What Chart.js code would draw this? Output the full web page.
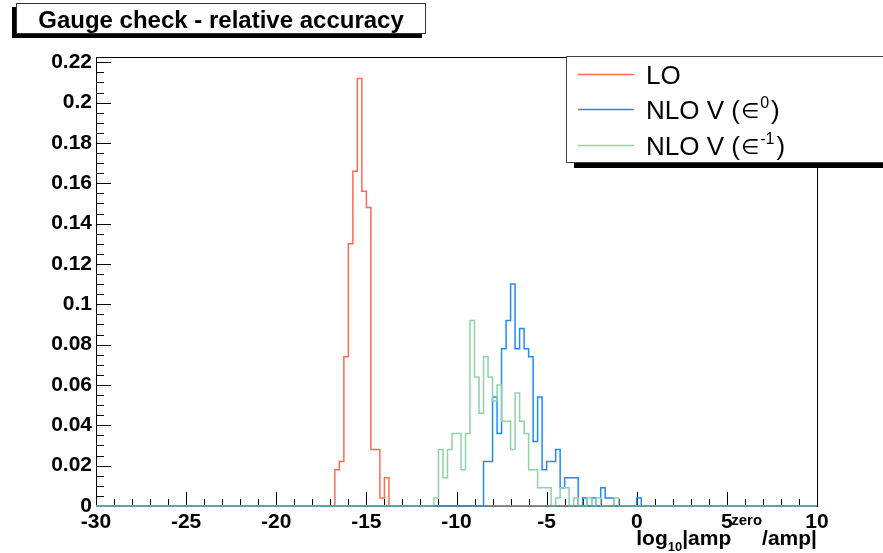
<!DOCTYPE html>
<html>
<head>
<meta charset="utf-8">
<script src="https://cdn.jsdelivr.net/npm/chart.js@4"></script>
<style>
  html, body { margin: 0; padding: 0; background: #fff; }
</style>
</head>
<body>
<canvas id="chart" width="883" height="553"></canvas>
<script>
// histogram range (log10|amp_zero/amp|), 0.25 wide bins
const xMin = -30;
const xMax = 10;
const binWidth = 0.25;
const yMax = 0.2226;

const xTicks = [-30, -25, -20, -15, -10, -5, 0, 5, 10];
const yTicks = [0, 0.02, 0.04, 0.06, 0.08, 0.1, 0.12, 0.14, 0.16, 0.18, 0.2, 0.22];

const seriesNames = ["LO", "NLO V (", "NLO V ("];
const seriesPowers = ["", "0", "-1"];

// LO, bins starting at -16.75
const loStart = -16.75;
const loValues = [0.018, 0.022, 0.074, 0.13, 0.166, 0.212, 0.156, 0.148, 0.028, 0.028, 0.004, 0.014];

// NLO V (eps^0), bins starting at -8.5
const nlo0Start = -8.5;
const nlo0Values = [0.022, 0.022, 0.054, 0.036, 0.078, 0.092, 0.110, 0.078, 0.088, 0.078,
  0.074, 0.032, 0.054, 0.018, 0.022, 0.022, 0.028, 0.009, 0.014, 0.014,
  0.014, 0, 0.004, 0, 0.004, 0, 0.009, 0.004, 0.004, 0,
  0, 0, 0, 0, 0.004];

// NLO V (eps^-1), bins starting at -11.25
const nlo1Start = -11.25;
const nlo1Values = [0.004, 0.028, 0.014, 0.028, 0.036, 0.036, 0.018, 0.036, 0.092, 0.064,
  0.046, 0.074, 0.064, 0.052, 0.060, 0.042, 0.042, 0.028, 0.056, 0.042,
  0.036, 0.018, 0.018, 0.009, 0.009, 0.009, 0, 0.004, 0.009, 0.009,
  0, 0.004, 0, 0, 0.004, 0, 0.004, 0, 0, 0,
  0.004];

const colors = ["#ff6a55", "#1e8cff", "#8ed3a6"];
const FONT = "'Liberation Sans', Arial, sans-serif";

function histPoints(start, values) {
  // full outline over the axis range, empty bins are 0
  const nBins = Math.round((xMax - xMin) / binWidth);
  const first = Math.round((start - xMin) / binWidth);
  const pts = [];
  for (let i = 0; i < nBins; i++) {
    const k = i - first;
    const v = k >= 0 && k < values.length ? values[k] : 0;
    pts.push({ x: xMin + i * binWidth, y: v });
  }
  pts.push({ x: xMax, y: pts[pts.length - 1].y });
  return pts;
}

function dataset(label, start, values, color, order) {
  return {
    label: label,
    data: histPoints(start, values),
    borderColor: color,
    borderWidth: 1.5,
    stepped: "before",
    pointRadius: 0,
    fill: false,
    clip: 4,
    order: order,
  };
}

const rootFrame = {
  id: "rootFrame",
  beforeDatasetsDraw(chart) {
    const { ctx, chartArea: a, scales: { x, y } } = chart;
    ctx.save();
    ctx.strokeStyle = "#000";
    ctx.lineWidth = 1;
    ctx.strokeRect(Math.round(a.left) + 0.5, Math.round(a.top) + 0.5,
      Math.round(a.right - a.left), Math.round(a.bottom - a.top));
    ctx.beginPath();
    // x ticks: major every 5, minor every 1, pointing up
    for (let v = xMin; v <= xMax; v += 1) {
      const px = Math.round(x.getPixelForValue(v)) + 0.5;
      const len = v % 5 === 0 ? 14 : 7;
      ctx.moveTo(px, a.bottom);
      ctx.lineTo(px, a.bottom - len);
    }
    // y ticks: major every 0.02, minor every 0.005
    for (let k = 0; k * 0.005 <= yMax; k++) {
      const py = Math.round(y.getPixelForValue(k * 0.005)) + 0.5;
      const len = k % 4 === 0 ? 15 : 8;
      ctx.moveTo(a.left, py);
      ctx.lineTo(a.left + len, py);
    }
    ctx.stroke();
    ctx.restore();
  },
  afterDatasetsDraw(chart) {
    // the three outlines overlap on the zero line -> darker teal base
    const { ctx, chartArea: a } = chart;
    ctx.save();
    ctx.strokeStyle = "rgba(60,150,150,0.8)";
    ctx.lineWidth = 1.5;
    ctx.beginPath();
    ctx.moveTo(a.left, a.bottom);
    ctx.lineTo(a.right, a.bottom);
    ctx.stroke();
    ctx.restore();
  },
  afterDraw(chart) {
    const { ctx, chartArea: a } = chart;
    ctx.save();

    // title pave with shadow
    ctx.fillStyle = "#000";
    ctx.fillRect(12, 7, 410, 31);
    ctx.fillStyle = "#fff";
    ctx.fillRect(16, 3, 410, 31);
    ctx.strokeStyle = "#333";
    ctx.lineWidth = 1;
    ctx.strokeRect(16.5, 3.5, 409, 30);
    ctx.fillStyle = "#000";
    ctx.font = "bold 24px " + FONT;
    ctx.textAlign = "center";
    ctx.textBaseline = "alphabetic";
    ctx.fillText("Gauge check - relative accuracy", 221, 28);

    // legend with shadow
    ctx.fillStyle = "#000";
    ctx.fillRect(574, 64, 320, 104);
    ctx.fillStyle = "#fff";
    ctx.fillRect(566, 56, 320, 107);
    ctx.strokeStyle = "#444";
    ctx.strokeRect(566.5, 56.5, 320, 106);
    ctx.textAlign = "left";
    const rows = [74, 109, 145];
    rows.forEach((ry, i) => {
      ctx.strokeStyle = colors[i];
      ctx.lineWidth = 1.5;
      ctx.beginPath();
      ctx.moveTo(578, ry + 0.5);
      ctx.lineTo(634, ry + 0.5);
      ctx.stroke();
      ctx.fillStyle = "#000";
      ctx.font = "26px " + FONT;
      ctx.fillText(seriesNames[i], 646, ry + 10);
      if (seriesPowers[i]) {
        let cx = 646 + ctx.measureText(seriesNames[i]).width;
        ctx.font = "21px 'DejaVu Sans', sans-serif";
        ctx.fillText("\u2208", cx + 1, ry + 9);
        cx += 1 + ctx.measureText("\u2208").width;
        ctx.font = "16px " + FONT;
        ctx.fillText(seriesPowers[i], cx + 1, ry - 1);
        cx += 1 + ctx.measureText(seriesPowers[i]).width;
        ctx.font = "26px " + FONT;
        ctx.fillText(")", cx + 2, ry + 10);
      }
    });

    // x axis title: log10|amp^zero/amp|
    const parts = [
      ["log", 21, 0], ["10", 13, 6], ["|amp", 21, 0], ["zero", 15, -20], ["/amp|", 21, 0],
    ];
    let total = 0;
    parts.forEach(p => { ctx.font = "bold " + p[1] + "px " + FONT; total += ctx.measureText(p[0]).width; });
    let tx = a.right - total;
    parts.forEach(p => {
      ctx.font = "bold " + p[1] + "px " + FONT;
      ctx.fillText(p[0], tx, 545 + p[2]);
      tx += ctx.measureText(p[0]).width;
    });
    ctx.restore();
  },
};

new Chart(document.getElementById("chart"), {
  type: "line",
  data: {
    datasets: [
      dataset("LO", loStart, loValues, colors[0], 3),
      dataset("NLO V (eps^0)", nlo0Start, nlo0Values, colors[1], 2),
      dataset("NLO V (eps^-1)", nlo1Start, nlo1Values, colors[2], 1),
    ],
  },
  options: {
    responsive: false,
    animation: false,
    layout: { padding: { left: 0, right: 66, top: 57, bottom: 0 } },
    plugins: { legend: { display: false }, tooltip: { enabled: false } },
    scales: {
      x: {
        type: "linear",
        min: xMin,
        max: xMax,
        grid: { display: false, drawTicks: false },
        border: { display: false },
        afterBuildTicks: (s) => { s.ticks = xTicks.map(v => ({ value: v })); },
        afterFit: (s) => { s.height = 47; },
        ticks: {
          color: "#000",
          font: { family: FONT, weight: "bold", size: 21 },
          padding: 4,
          maxRotation: 0,
          autoSkip: false,
        },
      },
      y: {
        min: 0,
        max: yMax,
        grid: { display: false, drawTicks: false },
        border: { display: false },
        afterBuildTicks: (s) => { s.ticks = yTicks.map(v => ({ value: v })); },
        afterFit: (s) => { s.width = 96; },
        ticks: {
          color: "#000",
          font: { family: FONT, weight: "bold", size: 21 },
          padding: 4,
          autoSkip: false,
          callback: (v) => String(+v.toFixed(2)),
        },
      },
    },
  },
  plugins: [rootFrame],
});
</script>
</body>
</html>
